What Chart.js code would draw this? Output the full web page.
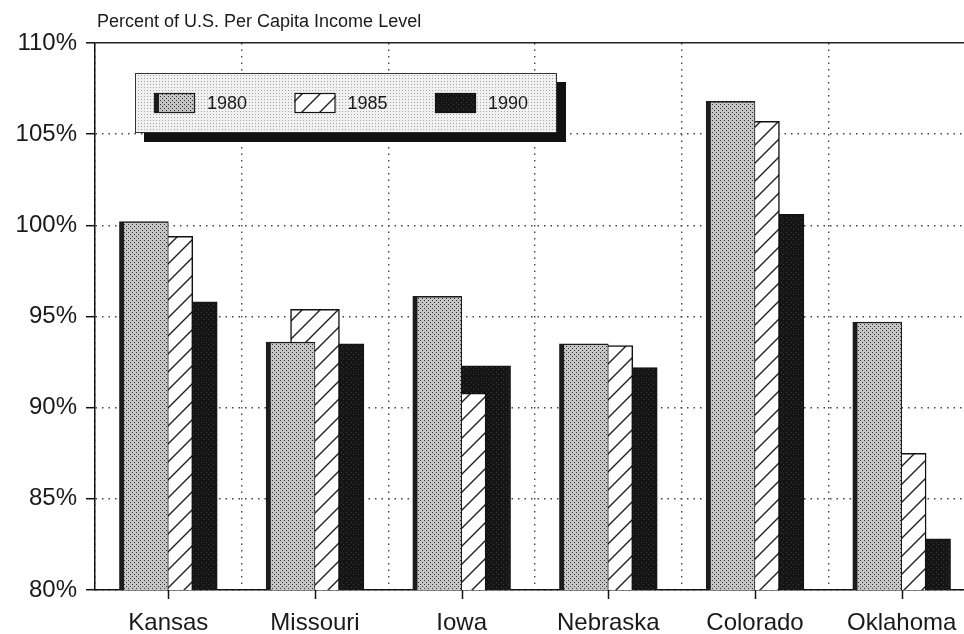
<!DOCTYPE html>
<html>
<head>
<meta charset="utf-8">
<title>Per Capita Income</title>
<script src="https://cdn.jsdelivr.net/npm/chart.js@4.4.1/dist/chart.umd.min.js"></script>
<style>
  html, body { margin: 0; padding: 0; background: #fff; overflow: hidden; }
  #wrap { width: 964px; height: 634px; overflow: hidden; position: relative; }
  canvas { display: block; }
</style>
</head>
<body>
<div id="wrap"><canvas id="incomeChart" width="990" height="634"></canvas></div>
<script>
// Percent of U.S. per capita income, by state and year
const states = ['Kansas', 'Missouri', 'Iowa', 'Nebraska', 'Colorado', 'Oklahoma'];
const years = ['1980', '1985', '1990'];
const pct1980 = [100.2, 93.6, 96.1, 93.5, 106.8, 94.7];
const pct1985 = [99.4, 95.4, 90.8, 93.4, 105.7, 87.5];
const pct1990 = [95.8, 93.5, 92.3, 92.2, 100.6, 82.8];
const yTicks = [80, 85, 90, 95, 100, 105, 110];

const FONT = "'Liberation Sans', Arial, Helvetica, sans-serif";
const INK = '#1a1a1a';

const canvas = document.getElementById('incomeChart');
const ctx = canvas.getContext('2d');

// small tiles used as fill patterns (halftone, hatch, dark screen)
function makeTile(w, h, draw) {
    const c = document.createElement('canvas');
    c.width = w;
    c.height = h;
    draw(c.getContext('2d'));
    return ctx.createPattern(c, 'repeat');
}

const stipple = makeTile(4, 4, g => {
    g.fillStyle = '#c6c6c6';
    g.fillRect(0, 0, 4, 4);
    g.fillStyle = '#2e2e2e';
    g.fillRect(0, 0, 1, 1);
    g.fillRect(2, 2, 1, 1);
});

const hatch = makeTile(18, 18, g => {
    g.fillStyle = '#fff';
    g.fillRect(0, 0, 18, 18);
    g.strokeStyle = '#222';
    g.lineWidth = 1.4;
    [0, 18, 36].forEach(k => {
        g.beginPath();
        g.moveTo(-2, k + 2);
        g.lineTo(k + 2, -2);
        g.stroke();
    });
});

const darkScreen = makeTile(5, 5, g => {
    g.fillStyle = '#151515';
    g.fillRect(0, 0, 5, 5);
    g.fillStyle = '#3a3a3a';
    g.fillRect(1, 2, 1, 1);
    g.fillRect(3, 4, 1, 1);
});

const legendBg = makeTile(3, 3, g => {
    g.fillStyle = '#f1f1f1';
    g.fillRect(0, 0, 3, 3);
    g.fillStyle = '#a5a5a5';
    g.fillRect(0, 0, 1, 1);
});

const dotted = [1.5, 5];

// title, centre tick marks on the category axis
const axisDecor = {
    id: 'axisDecor',
    afterDraw(chart) {
        const c = chart.ctx;
        const x = chart.scales.x;
        const bottom = chart.chartArea.bottom;
        c.save();
        c.strokeStyle = '#111';
        c.lineWidth = 1.5;
        states.forEach((s, i) => {
            const px = Math.round(x.getPixelForValue(i)) + 0.5;
            c.beginPath();
            c.moveTo(px, bottom);
            c.lineTo(px, bottom + 9);
            c.stroke();
        });
        c.fillStyle = INK;
        c.font = '18px ' + FONT;
        c.textAlign = 'left';
        c.textBaseline = 'alphabetic';
        c.fillText('Percent of U.S. Per Capita Income Level', 97, 27);
        c.restore();
    }
};

// boxed legend with drop shadow inside the plot
const shadowLegend = {
    id: 'shadowLegend',
    afterDatasetsDraw(chart) {
        const c = chart.ctx;
        const bx = 135, by = 73, bw = 422, bh = 60;
        c.save();
        c.fillStyle = '#111';
        c.fillRect(bx + 9, by + 9, bw, bh);
        c.fillStyle = legendBg;
        c.fillRect(bx, by, bw, bh);
        c.strokeStyle = '#333';
        c.lineWidth = 1;
        c.strokeRect(bx + 0.5, by + 0.5, bw - 1, bh - 1);

        c.font = '18px ' + FONT;
        c.textBaseline = 'middle';
        c.textAlign = 'left';
        chart.data.datasets.forEach((ds, i) => {
            const sx = 154 + i * 140.5, sy = 93, sw = 41, sh = 20;
            c.fillStyle = ds.backgroundColor;
            c.fillRect(sx, sy, sw, sh);
            c.fillStyle = ds.borderColor;
            if (i === 0) {
                c.fillRect(sx, sy, 5, sh);
            }
            c.strokeStyle = ds.borderColor;
            c.lineWidth = 1.2;
            c.strokeRect(sx + 0.5, sy + 0.5, sw - 1, sh - 1);
            c.fillStyle = INK;
            c.fillText(ds.label, sx + 53, sy + sh / 2 + 1);
        });
        c.restore();
    }
};

const chartData = {
    labels: states,
    datasets: [
        {
            label: years[0],
            data: pct1980,
            backgroundColor: stipple,
            borderColor: '#1c1c1c',
            borderWidth: { left: 5, top: 1.5, right: 1, bottom: 0 }
        },
        {
            label: years[1],
            data: pct1985,
            backgroundColor: hatch,
            borderColor: '#111',
            borderWidth: 1.5
        },
        {
            label: years[2],
            data: pct1990,
            backgroundColor: darkScreen,
            borderColor: '#111',
            borderWidth: 1
        }
    ]
};

Chart.defaults.font.family = FONT;
Chart.defaults.color = INK;

const incomeChart = new Chart(ctx, {
    type: 'bar',
    data: chartData,
    options: {
        responsive: false,
        animation: false,
        devicePixelRatio: 1,
        // bars in each group overlap by half, first series in front
        categoryPercentage: 0.5,
        barPercentage: 2,
        layout: { padding: { top: 43, right: 15, bottom: 0, left: 0 } },
        plugins: {
            legend: { display: false },
            title: { display: false },
            tooltip: { enabled: false }
        },
        scales: {
            x: {
                grid: {
                    offset: true,
                    drawTicks: false,
                    color: '#444',
                    lineWidth: 1.4
                },
                border: { color: '#111', width: 1.5, dash: dotted },
                ticks: {
                    font: { size: 24 },
                    color: INK,
                    padding: 19,
                    maxRotation: 0
                },
                afterFit: s => { s.height = 44; }
            },
            y: {
                min: yTicks[0],
                max: yTicks[yTicks.length - 1],
                afterBuildTicks: s => { s.ticks = yTicks.map(v => ({ value: v })); },
                grid: {
                    color: c => (c.tick && c.tick.value === 110) ? '#222' : '#444',
                    lineWidth: c => (c.tick && c.tick.value === 110) ? 1.6 : 1.4,
                    tickLength: 9,
                    tickColor: '#111',
                    tickWidth: 1.5,
                    tickBorderDash: []
                },
                border: {
                    color: '#111',
                    width: 1.5,
                    dash: c => (c.tick && c.tick.value === 110) ? [] : dotted
                },
                ticks: {
                    font: { size: 24 },
                    color: INK,
                    padding: 9,
                    callback: v => v + '%'
                },
                afterFit: s => { s.width = 95; }
            }
        }
    },
    plugins: [axisDecor, shadowLegend]
});
</script>
</body>
</html>
